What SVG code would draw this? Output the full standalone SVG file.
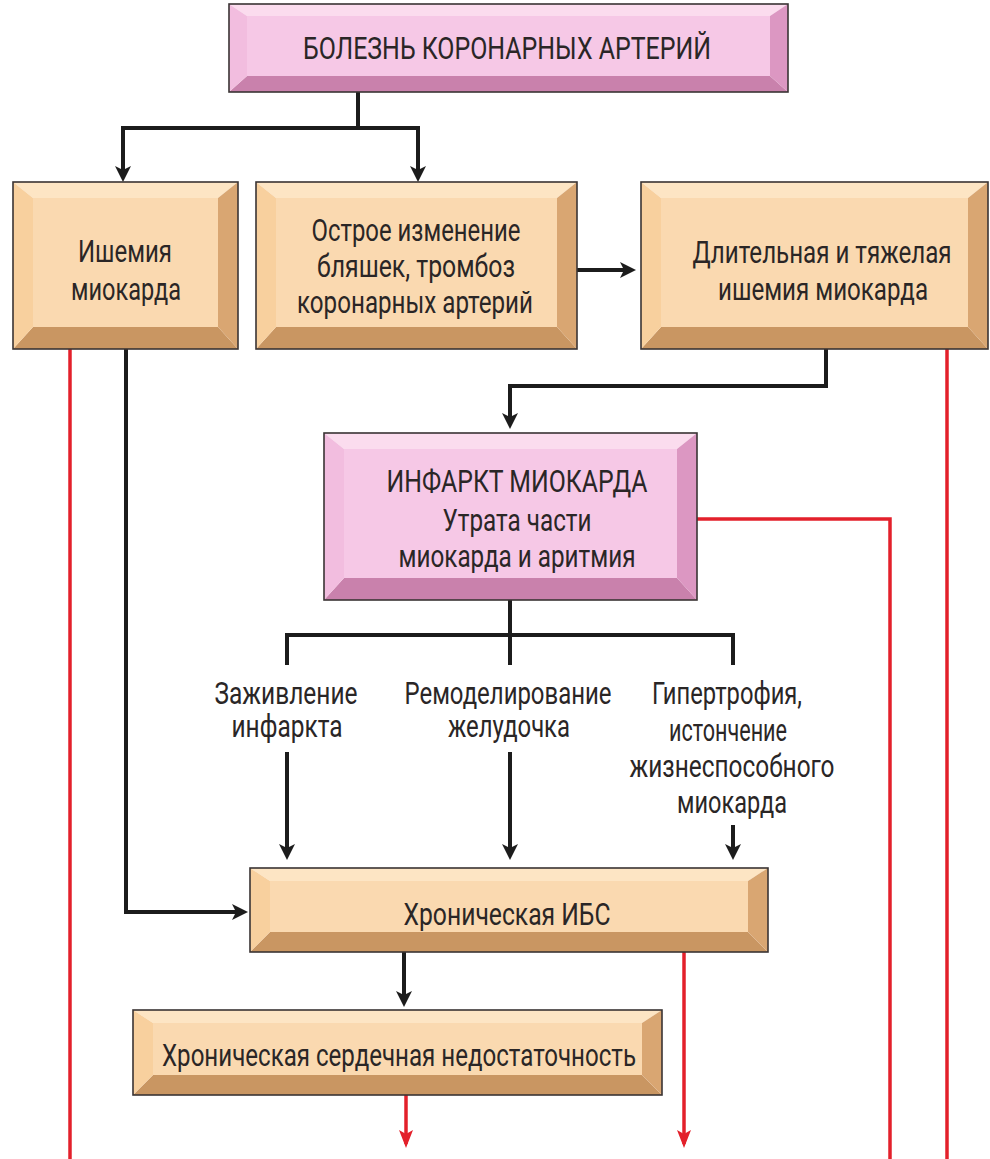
<svg xmlns="http://www.w3.org/2000/svg" width="990" height="1159" viewBox="0 0 990 1159">
<style>
.t{font-family:Roboto,"Liberation Sans",sans-serif;font-size:32px;fill:#2a2626;text-anchor:middle}
.brd{fill:none;stroke:#3a3434;stroke-width:1.6}
.pk .tp{fill:#fbdcee}.pk .lf{fill:#f2bddf}.pk .rt{fill:#dc97c2}.pk .bt{fill:#c981ac}.pk .fc{fill:#f6c8e6}
.tn .tp{fill:#fde5c4}.tn .lf{fill:#f8d09e}.tn .rt{fill:#d9a672}.tn .bt{fill:#c99662}.tn .fc{fill:#fad9b0}
.k{fill:none;stroke:#1c1c1c;stroke-width:4}
.r{fill:none;stroke:#e3202b;stroke-width:3.5}
</style>
<defs>
<marker id="ak" viewBox="0 0 16 16" refX="12" refY="8" markerWidth="16" markerHeight="16" markerUnits="userSpaceOnUse" orient="auto"><path d="M0,0 L16,8 L0,16 L4,8 z" fill="#1c1c1c"/></marker>
<marker id="ar" viewBox="0 0 18 14" refX="14" refY="7" markerWidth="18" markerHeight="14" markerUnits="userSpaceOnUse" orient="auto"><path d="M0,0 L18,7 L0,14 L4,7 z" fill="#e3202b"/></marker>
</defs>
<rect width="990" height="1159" fill="#ffffff"/>
<g id="connectors">
<path class="r" d="M70,349 V1159"/>
<path class="r" d="M947,349 V1159"/>
<path class="r" d="M697,519 H890 V1159"/>
<path class="r" d="M684,952 V1144" marker-end="url(#ar)"/>
<path class="r" d="M406,1095 V1144" marker-end="url(#ar)"/>
<path class="k" d="M358,92 V128 H123 V178" marker-end="url(#ak)"/>
<path class="k" d="M356,128 H418 V178" marker-end="url(#ak)"/>
<path class="k" d="M577,270 H632" marker-end="url(#ak)"/>
<path class="k" d="M826,349 V386 H510 V425" marker-end="url(#ak)"/>
<path class="k" d="M510,600 V665 M287,665 V635 H733 V665"/>
<path class="k" d="M287,752 V856" marker-end="url(#ak)"/>
<path class="k" d="M510,752 V856" marker-end="url(#ak)"/>
<path class="k" d="M733,825 V856" marker-end="url(#ak)"/>
<path class="k" d="M126,349 V912 H244" marker-end="url(#ak)"/>
<path class="k" d="M404,952 V1003" marker-end="url(#ak)"/>
</g>
<g id="n-bolezn" class="pk">
<polygon class="tp" points="229,4 788,4 770,16 247,16"/>
<polygon class="bt" points="229,92 788,92 770,76 247,76"/>
<polygon class="lf" points="229,4 247,16 247,76 229,92"/>
<polygon class="rt" points="788,4 770,16 770,76 788,92"/>
<rect class="fc" x="247" y="16" width="523" height="60"/>
<rect class="brd" x="229" y="4" width="559" height="88"/>
<text class="t" x="507" y="59" textLength="408" lengthAdjust="spacingAndGlyphs">БОЛЕЗНЬ КОРОНАРНЫХ АРТЕРИЙ</text>
</g>
<g id="n-ishemia" class="tn">
<polygon class="tp" points="13,182 238,182 218,198 33,198"/>
<polygon class="bt" points="13,349 238,349 218,327 33,327"/>
<polygon class="lf" points="13,182 33,198 33,327 13,349"/>
<polygon class="rt" points="238,182 218,198 218,327 238,349"/>
<rect class="fc" x="33" y="198" width="185" height="129"/>
<rect class="brd" x="13" y="182" width="225" height="167"/>
<text class="t" x="125" y="262" textLength="94" lengthAdjust="spacingAndGlyphs">Ишемия</text>
<text class="t" x="126" y="300" textLength="110" lengthAdjust="spacingAndGlyphs">миокарда</text>
</g>
<g id="n-ostroe" class="tn">
<polygon class="tp" points="256,182 577,182 557,198 276,198"/>
<polygon class="bt" points="256,349 577,349 557,327 276,327"/>
<polygon class="lf" points="256,182 276,198 276,327 256,349"/>
<polygon class="rt" points="577,182 557,198 557,327 577,349"/>
<rect class="fc" x="276" y="198" width="281" height="129"/>
<rect class="brd" x="256" y="182" width="321" height="167"/>
<text class="t" x="416" y="241" textLength="209" lengthAdjust="spacingAndGlyphs">Острое изменение</text>
<text class="t" x="416" y="277" textLength="198" lengthAdjust="spacingAndGlyphs">бляшек, тромбоз</text>
<text class="t" x="415" y="313" textLength="236" lengthAdjust="spacingAndGlyphs">коронарных артерий</text>
</g>
<g id="n-dlitelnaya" class="tn">
<polygon class="tp" points="641,182 988,182 968,198 661,198"/>
<polygon class="bt" points="641,349 988,349 968,327 661,327"/>
<polygon class="lf" points="641,182 661,198 661,327 641,349"/>
<polygon class="rt" points="988,182 968,198 968,327 988,349"/>
<rect class="fc" x="661" y="198" width="307" height="129"/>
<rect class="brd" x="641" y="182" width="347" height="167"/>
<text class="t" x="822" y="263" textLength="259" lengthAdjust="spacingAndGlyphs">Длительная и тяжелая</text>
<text class="t" x="823" y="300" textLength="210" lengthAdjust="spacingAndGlyphs">ишемия миокарда</text>
</g>
<g id="n-infarkt" class="pk">
<polygon class="tp" points="324,433 697,433 677,449 344,449"/>
<polygon class="bt" points="324,600 697,600 677,578 344,578"/>
<polygon class="lf" points="324,433 344,449 344,578 324,600"/>
<polygon class="rt" points="697,433 677,449 677,578 697,600"/>
<rect class="fc" x="344" y="449" width="333" height="129"/>
<rect class="brd" x="324" y="433" width="373" height="167"/>
<text class="t" x="517" y="492" textLength="261" lengthAdjust="spacingAndGlyphs">ИНФАРКТ МИОКАРДА</text>
<text class="t" x="517" y="531" textLength="149" lengthAdjust="spacingAndGlyphs">Утрата части</text>
<text class="t" x="517" y="567" textLength="237" lengthAdjust="spacingAndGlyphs">миокарда и аритмия</text>
</g>
<g id="l-zazhivlenie">
<text class="t" x="286" y="704" textLength="143" lengthAdjust="spacingAndGlyphs">Заживление</text>
<text class="t" x="287" y="737" textLength="111" lengthAdjust="spacingAndGlyphs">инфаркта</text>
</g>
<g id="l-remodel">
<text class="t" x="508" y="704" textLength="207" lengthAdjust="spacingAndGlyphs">Ремоделирование</text>
<text class="t" x="509" y="737" textLength="122" lengthAdjust="spacingAndGlyphs">желудочка</text>
</g>
<g id="l-gipertrofia">
<text class="t" x="727" y="704" textLength="150" lengthAdjust="spacingAndGlyphs">Гипертрофия,</text>
<text class="t" x="728" y="741" textLength="118" lengthAdjust="spacingAndGlyphs">истончение</text>
<text class="t" x="732" y="777" textLength="205" lengthAdjust="spacingAndGlyphs">жизнеспособного</text>
<text class="t" x="732" y="813" textLength="110" lengthAdjust="spacingAndGlyphs">миокарда</text>
</g>
<g id="n-ibs" class="tn">
<polygon class="tp" points="250,868 768,868 748,881 270,881"/>
<polygon class="bt" points="250,952 768,952 748,932 270,932"/>
<polygon class="lf" points="250,868 270,881 270,932 250,952"/>
<polygon class="rt" points="768,868 748,881 748,932 768,952"/>
<rect class="fc" x="270" y="881" width="478" height="51"/>
<rect class="brd" x="250" y="868" width="518" height="84"/>
<text class="t" x="507" y="925" textLength="207" lengthAdjust="spacingAndGlyphs">Хроническая ИБС</text>
</g>
<g id="n-hsn" class="tn">
<polygon class="tp" points="133,1010 662,1010 642,1023 153,1023"/>
<polygon class="bt" points="133,1095 662,1095 642,1075 153,1075"/>
<polygon class="lf" points="133,1010 153,1023 153,1075 133,1095"/>
<polygon class="rt" points="662,1010 642,1023 642,1075 662,1095"/>
<rect class="fc" x="153" y="1023" width="489" height="52"/>
<rect class="brd" x="133" y="1010" width="529" height="85"/>
<text class="t" x="399" y="1066" textLength="474" lengthAdjust="spacingAndGlyphs">Хроническая сердечная недостаточность</text>
</g>
</svg>
